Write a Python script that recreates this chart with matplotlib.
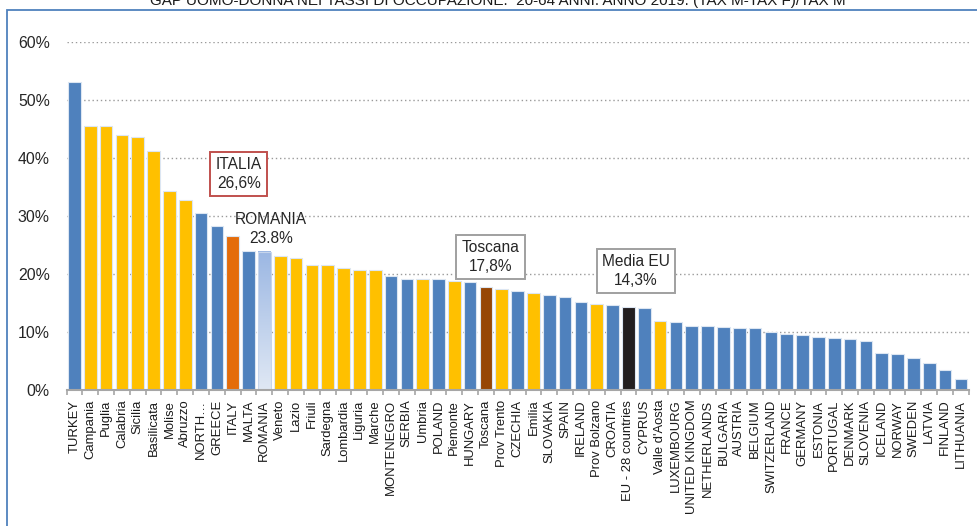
import numpy as np
import matplotlib
matplotlib.use("Agg")
import matplotlib.pyplot as plt
from matplotlib.patches import Rectangle
from matplotlib.colors import LinearSegmentedColormap

FONT = ["Liberation Sans", "DejaVu Sans"]
plt.rcParams["font.family"] = FONT

# Gender gap in employment rates, 20-64 years, 2019: (rate M - rate F) / rate M, in %
categories = [
    "TURKEY", "Campania", "Puglia", "Calabria", "Sicilia", "Basilicata", "Molise",
    "Abruzzo", "NORTH…", "GREECE", "ITALY", "MALTA", "ROMANIA", "Veneto", "Lazio",
    "Friuli", "Sardegna", "Lombardia", "Liguria", "Marche", "MONTENEGRO", "SERBIA",
    "Umbria", "POLAND", "Piemonte", "HUNGARY", "Toscana", "Prov Trento", "CZECHIA",
    "Emilia", "SLOVAKIA", "SPAIN", "IRELAND", "Prov Bolzano", "CROATIA",
    "EU - 28 countries", "CYPRUS", "Valle d'Aosta", "LUXEMBOURG", "UNITED KINGDOM",
    "NETHERLANDS", "BULGARIA", "AUSTRIA", "BELGIUM", "SWITZERLAND", "FRANCE",
    "GERMANY", "ESTONIA", "PORTUGAL", "DENMARK", "SLOVENIA", "ICELAND", "NORWAY",
    "SWEDEN", "LATVIA", "FINLAND", "LITHUANIA",
]
gap_values = [
    53.1, 45.5, 45.5, 44.0, 43.6, 41.2, 34.3,
    32.8, 30.6, 28.2, 26.6, 24.0, 23.8, 23.1, 22.8,
    21.5, 21.5, 21.1, 20.7, 20.7, 19.7, 19.2,
    19.1, 19.1, 18.8, 18.7, 17.8, 17.4, 17.1,
    16.7, 16.3, 16.1, 15.2, 14.8, 14.7,
    14.3, 14.2, 11.9, 11.7, 11.1,
    11.0, 10.8, 10.75, 10.7, 10.0, 9.6,
    9.5, 9.1, 9.0, 8.8, 8.4, 6.4, 6.2,
    5.6, 4.7, 3.45, 1.95,
]
# c = country, r = Italian region, plus highlighted entries
groups = [
    "c", "r", "r", "r", "r", "r", "r",
    "r", "c", "c", "italy", "c", "romania", "r", "r",
    "r", "r", "r", "r", "r", "c", "c",
    "r", "c", "r", "c", "toscana", "r", "c",
    "r", "c", "c", "c", "r", "c",
    "eu", "c", "r", "c", "c",
    "c", "c", "c", "c", "c", "c",
    "c", "c", "c", "c", "c", "c", "c",
    "c", "c", "c", "c",
]
yticks = [0, 10, 20, 30, 40, 50, 60]
ytick_labels = ["0%", "10%", "20%", "30%", "40%", "50%", "60%"]

palette = {
    "c": "#4F81BD", "r": "#FFC000", "italy": "#E46C0A",
    "toscana": "#974706", "eu": "#231F20", "romania": "none",
}

W, H = 977, 526
fig = plt.figure(figsize=(W / 100, H / 100), dpi=100)
ax = fig.add_axes([66.5 / W, 1 - 390 / H, (968.8 - 66.5) / W, 348 / H])

x = np.arange(len(categories))
bw = 0.8
colors = [palette[g] for g in groups]
edges = ["#DCE6F2" if g != "romania" else "#C6D5EC" for g in groups]
ax.bar(x, gap_values, width=bw, color=colors, edgecolor=edges,
       linewidth=0.8, zorder=3)

# gradient fill for the Romania bar
ri = groups.index("romania")
grad_cmap = LinearSegmentedColormap.from_list("ro", ["#E0E8F4", "#9BB7E3"])
grad = np.linspace(0, 1, 256).reshape(-1, 1)
ax.imshow(grad, cmap=grad_cmap, origin="lower", aspect="auto",
          extent=[ri - bw / 2, ri + bw / 2, 0, gap_values[ri]], zorder=2.9)

ax.set_xlim(-0.5, len(categories) - 0.5)
ax.set_ylim(0, 60)

# dotted horizontal gridlines
for yv in yticks[1:]:
    ax.axhline(yv, color="#9A9A9A", linewidth=1.0, linestyle=(0, (1, 2)), zorder=1)

for s in ["top", "right", "left"]:
    ax.spines[s].set_visible(False)
ax.spines["bottom"].set_color("#A6A6A6")
ax.spines["bottom"].set_linewidth(1.5)
ax.spines["bottom"].set_zorder(4)

ax.set_yticks(yticks)
ax.set_yticklabels(ytick_labels, fontsize=11.4, color="#262626")
ax.tick_params(axis="y", length=0, pad=12)

ax.set_xticks(x)
ax.set_xticklabels(categories, rotation=90, fontsize=9.4, color="#1A1A1A",
                   va="top", ha="center")
ax.tick_params(axis="x", which="major", length=0, pad=7)
ax.set_xticks(np.arange(-0.5, len(categories), 1), minor=True)
ax.tick_params(axis="x", which="minor", length=3.5, width=1.2, color="#A6A6A6",
               direction="out")

label_kw = dict(ha="center", va="center", fontsize=11.2, color="#262626",
                linespacing=1.3, zorder=5)
ax.text(10.39, 37.2, "ITALIA\n26,6%",
        bbox=dict(boxstyle="square,pad=0.35", fc="white", ec="#C0504D", lw=1.4),
        **label_kw)
ax.text(12.4, 27.8, "ROMANIA\n23.8%", **label_kw)
ax.text(26.3, 22.9, "Toscana\n17,8%",
        bbox=dict(boxstyle="square,pad=0.35", fc="white", ec="#A0A0A0", lw=1.4),
        **label_kw)
ax.text(35.47, 20.5, "Media EU\n14,3%",
        bbox=dict(boxstyle="square,pad=0.35", fc="white", ec="#A0A0A0", lw=1.4),
        **label_kw)

# outer frame
fig.patches.append(Rectangle((7 / W, -0.05), 1.2, 1 - 9.5 / H + 0.05,
                             transform=fig.transFigure, fill=False,
                             ec="#4F81BD", lw=1.3, zorder=0))

fig.text(498 / W, 1 - 5.5 / H,
         "GAP UOMO-DONNA NEI TASSI DI OCCUPAZIONE.  20-64 ANNI. ANNO 2019. (TAX M-TAX F)/TAX M",
         ha="center", va="baseline", fontsize=11.0, color="#1A1A1A")

fig.savefig("out.png", dpi=100)
